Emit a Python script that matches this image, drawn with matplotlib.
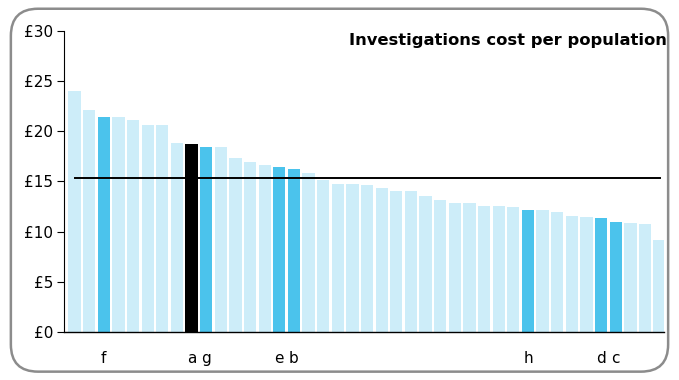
import matplotlib.pyplot as plt
import numpy as np
from matplotlib.patches import FancyBboxPatch

plt.rcParams['font.family'] = ['DejaVu Sans']

# cost per population, sorted, one bar per organisation
costs = [24.0, 22.1, 21.4, 21.4, 21.1, 20.6, 20.6, 18.8, 18.7, 18.4,
         18.4, 17.3, 16.95, 16.6, 16.4, 16.2, 15.85, 15.1, 14.8, 14.75,
         14.7, 14.4, 14.05, 14.05, 13.6, 13.15, 12.9, 12.85, 12.6, 12.6,
         12.5, 12.15, 12.15, 11.95, 11.6, 11.45, 11.4, 11.0, 10.85, 10.8,
         9.15]
# labelled bars: index -> name
labels = {2: 'f', 8: 'a', 9: 'g', 14: 'e', 15: 'b', 31: 'h', 36: 'd', 37: 'c'}
highlight = 8  # the black one
average = 15.35
yticks = [0, 5, 10, 15, 20, 25, 30]

light = '#CDEDF9'
blue = '#4BC3EC'

x = np.arange(len(costs))
colors = []
for i in x:
    if i == highlight:
        colors.append('black')
    elif i in labels:
        colors.append(blue)
    else:
        colors.append(light)

fig = plt.figure(figsize=(6.79, 3.8), dpi=100)
border = FancyBboxPatch((0.016, 0.022), 0.968, 0.955, boxstyle='round,pad=0,rounding_size=0.04',
                        transform=fig.transFigure, facecolor='none', edgecolor='#8c8c8c',
                        linewidth=1.8, mutation_aspect=679/380, zorder=-1)
fig.patches.append(border)

ax = fig.add_axes([64/679, 48/380, 600/679, 301/380])
ax.patch.set_alpha(0)
ax.bar(x, costs, width=0.84, color=colors)
ax.plot([x[0], x[-1]], [average, average], color='black', lw=1.4)

ax.set_xlim(-0.72, len(costs) - 0.7)
ax.set_ylim(0, 30)
ax.set_yticks(yticks)
ax.set_yticklabels(['£%d' % v for v in yticks], fontsize=11)
ax.tick_params(axis='y', length=5, width=0.8, pad=3)

pos = sorted(labels)
ax.set_xticks(pos)
ax.set_xticklabels([labels[p] for p in pos], fontsize=11)
ax.tick_params(axis='x', length=0, pad=14)

ax.spines['top'].set_visible(False)
ax.spines['right'].set_visible(False)
ax.spines['left'].set_linewidth(0.8)
ax.spines['bottom'].set_linewidth(1.0)

fig.text(667/679, 1 - 40/380, 'Investigations cost per population', ha='right', va='center',
         fontsize=11.8, fontweight='bold')

fig.savefig('out.png', dpi=100)
